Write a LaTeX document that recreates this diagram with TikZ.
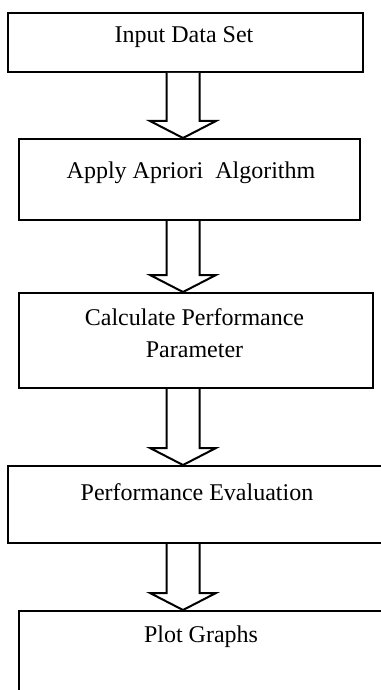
\documentclass[tikz,border=0pt]{standalone}
\usepackage{fontspec}
\setmainfont{Liberation Serif}
\usetikzlibrary{calc}
\newcommand\blkarrow[2]{%
  \draw[blk] let \p1=(#1.south -| axis), \p2=(#2.north -| axis) in
    (\x1-8.25pt,\y1) -- (\x1-8.25pt,\y2+8.5pt) -- (\x1-16.5pt,\y2+8.5pt) -- (\x1,\y2)
    -- (\x1+16.5pt,\y2+8.5pt) -- (\x1+8.25pt,\y2+8.5pt) -- (\x1+8.25pt,\y1);}
\begin{document}
\begin{tikzpicture}[x=0.5pt,y=-0.5pt,
  box/.style={draw, line width=1pt, anchor=north west, inner sep=0pt},
  txt/.style={inner sep=0pt, align=center, font=\fontsize{12}{16}\selectfont},
  blk/.style={draw, line width=1pt, fill=white, line join=miter}]
\useasboundingbox[fill=white] (0,0) rectangle (380,690);
\coordinate (axis) at (183,0);
\node[box, minimum width=177.5pt, minimum height=29.5pt] (b1) at (7,12) {};
\node[box, minimum width=170.5pt, minimum height=40.5pt] (b2) at (18,138) {};
\node[box, minimum width=177pt, minimum height=47.5pt] (b3) at (18,292) {};
\node[box, minimum width=190pt, minimum height=38.5pt] (b4) at (7,465) {};
\node[box, minimum width=183pt, minimum height=50pt] (b5) at (18,610) {};
\node[txt] (t1) at (184,37) {Input Data Set};
\node[txt] (t2) at (191,173) {Apply Apriori\ \ Algorithm};
\node[txt] (t3) at (194.5,333) {Calculate Performance\\Parameter};
\node[txt] (t4) at (197,492) {Performance Evaluation};
\node[txt] (t5) at (201,637) {Plot Graphs};
\blkarrow{b1}{b2}
\blkarrow{b2}{b3}
\blkarrow{b3}{b4}
\blkarrow{b4}{b5}
\end{tikzpicture}
\end{document}
